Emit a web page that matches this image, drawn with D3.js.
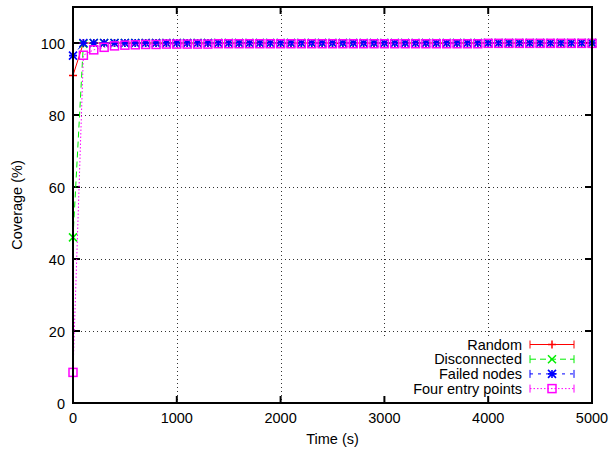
<!DOCTYPE html>
<html>
<head>
<meta charset="utf-8">
<script src="https://cdn.jsdelivr.net/npm/d3@7"></script>
<style>
body { margin: 0; background: #fff; }
text { font-family: "Liberation Sans", Arial, sans-serif; }
</style>
</head>
<body>
<script>
// sample times (s)
var times = [0, 100, 200, 300, 400, 500, 600, 700, 800, 900, 1000,
  1100, 1200, 1300, 1400, 1500, 1600, 1700, 1800, 1900, 2000,
  2100, 2200, 2300, 2400, 2500, 2600, 2700, 2800, 2900, 3000,
  3100, 3200, 3300, 3400, 3500, 3600, 3700, 3800, 3900, 4000,
  4100, 4200, 4300, 4400, 4500, 4600, 4700, 4800, 4900, 5000];

var random = [91, 100, 100, 100, 100, 100, 100, 100, 100, 100, 100,
  100, 100, 100, 100, 100, 100, 100, 100, 100, 100,
  100, 100, 100, 100, 100, 100, 100, 100, 100, 100,
  100, 100, 100, 100, 100, 100, 100, 100, 100, 100,
  100, 100, 100, 100, 100, 100, 100, 100, 100, 100];

var disconnected = [46, 99.8, 100, 100, 100, 100, 100, 100, 100, 100, 100,
  100, 100, 100, 100, 100, 100, 100, 100, 100, 100,
  100, 100, 100, 100, 100, 100, 100, 100, 100, 100,
  100, 100, 100, 100, 100, 100, 100, 100, 100, 100,
  100, 100, 100, 100, 100, 100, 100, 100, 100, 100];

var failedNodes = [96.5, 100, 100, 100, 100, 100, 100, 100, 100, 100, 100,
  100, 100, 100, 100, 100, 100, 100, 100, 100, 100,
  100, 100, 100, 100, 100, 100, 100, 100, 100, 100,
  100, 100, 100, 100, 100, 100, 100, 100, 100, 100,
  100, 100, 100, 100, 100, 100, 100, 100, 100, 100];

var fourEntry = [8.5, 96.6, 98.1, 98.8, 99.2, 99.4, 99.5, 99.6, 99.6, 99.7, 99.7,
  99.7, 99.7, 99.7, 99.8, 99.8, 99.8, 99.8, 99.8, 99.8, 99.8,
  99.8, 99.8, 99.8, 99.8, 99.8, 99.8, 99.8, 99.8, 99.8, 99.8,
  99.8, 99.8, 99.8, 99.8, 99.8, 99.8, 99.8, 99.8, 99.8, 99.9,
  99.9, 99.9, 99.9, 99.9, 99.9, 99.9, 99.9, 99.9, 99.9, 99.9];

var xTicks = [0, 1000, 2000, 3000, 4000, 5000];
var yTicks = [0, 20, 40, 60, 80, 100];

var series = [
  {name: "Random", values: random, color: "#ff0000", dash: null, mark: "plus"},
  {name: "Disconnected", values: disconnected, color: "#00ee00", dash: "6,4", mark: "cross"},
  {name: "Failed nodes", values: failedNodes, color: "#0000ff", dash: "3,5", mark: "star"},
  {name: "Four entry points", values: fourEntry, color: "#ff00ff", dash: "1.5,2", mark: "square"}
];

var W = 609, H = 453;
var pL = 73, pR = 592, pT = 7, pB = 403;
var fs = "14.5px";

var x = d3.scaleLinear().domain([0, 5000]).range([pL, pR]);
var y = d3.scaleLinear().domain([0, 110]).range([pB, pT]);

var svg = d3.select("body").append("svg")
  .attr("width", W).attr("height", H);

// grid
var grid = svg.append("g").attr("stroke", "#333").attr("stroke-width", 1)
  .attr("stroke-dasharray", "1,3");
grid.selectAll("line.gx").data(xTicks.slice(1, -1)).enter().append("line")
  .attr("x1", function(d) { return Math.round(x(d)) + 0.5; })
  .attr("x2", function(d) { return Math.round(x(d)) + 0.5; })
  .attr("y1", pT).attr("y2", pB);
grid.selectAll("line.gy").data(yTicks.slice(1)).enter().append("line")
  .attr("y1", function(d) { return Math.round(y(d)) + 0.5; })
  .attr("y2", function(d) { return Math.round(y(d)) + 0.5; })
  .attr("x1", pL).attr("x2", pR);

// opaque key area
svg.append("rect").attr("x", 300).attr("y", 337).attr("width", pR - 300)
  .attr("height", pB - 337).attr("fill", "#fff");

// axes (inward ticks, mirrored)
var ax = svg.append("g").attr("stroke", "#000").attr("stroke-width", 2);
xTicks.forEach(function(t) {
  ax.append("line").attr("x1", x(t)).attr("x2", x(t)).attr("y1", pB).attr("y2", pB - 7);
  ax.append("line").attr("x1", x(t)).attr("x2", x(t)).attr("y1", pT).attr("y2", pT + 7);
});
yTicks.forEach(function(t) {
  ax.append("line").attr("y1", y(t)).attr("y2", y(t)).attr("x1", pL).attr("x2", pL + 7);
  ax.append("line").attr("y1", y(t)).attr("y2", y(t)).attr("x1", pR).attr("x2", pR - 7);
});

svg.selectAll("text.xt").data(xTicks).enter().append("text")
  .attr("x", function(d) { return x(d); }).attr("y", pB + 20)
  .attr("text-anchor", "middle").attr("font-size", fs)
  .text(function(d) { return d; });
svg.selectAll("text.yt").data(yTicks).enter().append("text")
  .attr("x", pL - 8).attr("y", function(d) { return y(d) + 5.5; })
  .attr("text-anchor", "end").attr("font-size", fs)
  .text(function(d) { return d; });

svg.append("text").attr("x", (pL + pR) / 2).attr("y", 444)
  .attr("text-anchor", "middle").attr("font-size", fs).text("Time (s)");
svg.append("text").attr("transform", "translate(22," + ((pT + pB) / 2) + ") rotate(-90)")
  .attr("text-anchor", "middle").attr("font-size", fs).text("Coverage (%)");

function drawMark(g, kind, cx, cy, color) {
  var s = 4;
  if (kind == "plus") {
    g.append("path").attr("d", "M" + (cx - s) + "," + cy + "H" + (cx + s) + "M" + cx + "," + (cy - s) + "V" + (cy + s))
      .attr("stroke", color).attr("stroke-width", 1.5).attr("fill", "none");
  } else if (kind == "cross") {
    g.append("path").attr("d", "M" + (cx - s) + "," + (cy - s) + "L" + (cx + s) + "," + (cy + s) + "M" + (cx - s) + "," + (cy + s) + "L" + (cx + s) + "," + (cy - s))
      .attr("stroke", color).attr("stroke-width", 1.5).attr("fill", "none");
  } else if (kind == "star") {
    g.append("path").attr("d", "M" + (cx - s) + "," + cy + "H" + (cx + s) + "M" + cx + "," + (cy - s) + "V" + (cy + s) +
      "M" + (cx - s) + "," + (cy - s) + "L" + (cx + s) + "," + (cy + s) + "M" + (cx - s) + "," + (cy + s) + "L" + (cx + s) + "," + (cy - s))
      .attr("stroke", color).attr("stroke-width", 1.6).attr("fill", "none");
  } else {
    g.append("rect").attr("x", cx - s).attr("y", cy - s).attr("width", 2 * s).attr("height", 2 * s)
      .attr("stroke", color).attr("stroke-width", 1.5).attr("fill", "none");
  }
}

var line = d3.line().x(function(d, i) { return x(times[i]); }).y(function(d) { return y(d); });

series.forEach(function(s) {
  var g = svg.append("g");
  g.append("path").attr("d", line(s.values)).attr("fill", "none")
    .attr("stroke", s.color).attr("stroke-width", 1)
    .attr("stroke-dasharray", s.dash);
  s.values.forEach(function(v, i) {
    drawMark(g, s.mark, x(times[i]), y(v), s.color);
  });
});

// key
series.forEach(function(s, i) {
  var ky = 344.5 + i * 14.7;
  var g = svg.append("g");
  g.append("text").attr("x", 522).attr("y", ky + 5).attr("text-anchor", "end")
    .attr("font-size", fs).text(s.name);
  g.append("line").attr("x1", 530).attr("x2", 574).attr("y1", ky).attr("y2", ky)
    .attr("stroke", s.color).attr("stroke-width", 1).attr("stroke-dasharray", s.dash);
  g.append("path").attr("d", "M530," + (ky - 4) + "V" + (ky + 4) + "M574," + (ky - 4) + "V" + (ky + 4))
    .attr("stroke", s.color).attr("stroke-width", 1);
  drawMark(g, s.mark, 552, ky, s.color);
});

// frame
svg.append("rect").attr("x", pL).attr("y", pT).attr("width", pR - pL).attr("height", pB - pT)
  .attr("fill", "none").attr("stroke", "#000").attr("stroke-width", 2);
</script>
</body>
</html>
